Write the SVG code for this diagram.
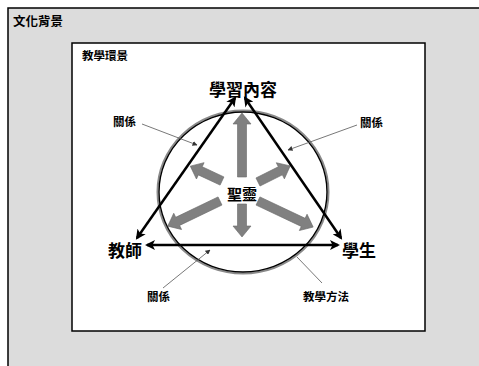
<svg xmlns="http://www.w3.org/2000/svg" width="479" height="366" viewBox="0 0 479 366">
<style>
text{font-family:"Noto Sans CJK TC","Noto Sans CJK SC",sans-serif;font-weight:bold;fill:#000}
.big{font-size:17px}
.sm{font-size:11.5px}
.thick{stroke:#000;stroke-width:2.5;fill:none;marker-start:url(#ah);marker-end:url(#ah)}
.lead{stroke:#555;stroke-width:0.8;fill:none}
.ga{fill:#808080;stroke:#6a6a6a;stroke-width:0.6}
</style>
<defs>
<marker id="ah" viewBox="0 0 10 10" refX="8" refY="5" markerWidth="11" markerHeight="10" markerUnits="userSpaceOnUse" orient="auto-start-reverse">
<path d="M0,0 L10,5 L0,10 L2.5,5 Z" fill="#000"/>
</marker>
<marker id="sa" viewBox="0 0 10 10" refX="9" refY="5" markerWidth="5" markerHeight="5" markerUnits="userSpaceOnUse" orient="auto">
<path d="M0,0 L10,5 L0,10 Z" fill="#333"/>
</marker>
</defs>
<g id="culture">
<rect x="8" y="8" width="480" height="370" fill="#dcdcdc" stroke="#000" stroke-width="1.5"/>
<text x="13" y="26" style="font-size:12.5px">文化背景</text>
</g>
<g id="environment">
<rect x="72" y="43" width="353" height="288" fill="#fff" stroke="#000" stroke-width="1.5"/>
<text x="82" y="60" class="sm">教學環景</text>
</g>
<g id="method-circle">
<ellipse cx="243" cy="192" rx="85.5" ry="81.5" fill="none" stroke="#8a8a8a" stroke-width="2"/>
<ellipse cx="243" cy="192" rx="84" ry="80" fill="none" stroke="#000" stroke-width="1.4"/>
</g>
<g id="spirit-arrows">
<path class="ga" transform="translate(242,177) rotate(-90)" d="M0,-4.5 H53 V-9 L64,0 L53,9 V4.5 H0 Z"/>
<path class="ga" transform="translate(242,204) rotate(90)" d="M0,-4.5 H22 V-9 L33,0 L22,9 V4.5 H0 Z"/>
<path class="ga" transform="translate(222,181) rotate(205.1)" d="M0,-4.5 H24 V-9 L35,0 L24,9 V4.5 H0 Z"/>
<path class="ga" transform="translate(258,182) rotate(-26.6)" d="M0,-4.5 H25 V-9 L36,0 L25,9 V4.5 H0 Z"/>
<path class="ga" transform="translate(220,201) rotate(154.3)" d="M0,-4.5 H47 V-9 L58,0 L47,9 V4.5 H0 Z"/>
<path class="ga" transform="translate(258,201) rotate(25.3)" d="M0,-4.5 H50 V-9 L61,0 L50,9 V4.5 H0 Z"/>
</g>
<g id="connectors">
<line class="thick" x1="137" y1="238" x2="235" y2="98"/>
<line class="thick" x1="245" y1="98" x2="341" y2="238"/>
<line class="thick" x1="147" y1="245" x2="338" y2="245"/>
<line class="lead" x1="142" y1="124" x2="197" y2="145" marker-end="url(#sa)"/>
<line class="lead" x1="357" y1="125" x2="288" y2="150" marker-end="url(#sa)"/>
<line class="lead" x1="163" y1="288" x2="210" y2="250" marker-end="url(#sa)"/>
<line class="lead" x1="322" y1="283" x2="297" y2="257"/>
</g>
<g id="content"><text x="243" y="96" class="big" text-anchor="middle">學習內容</text></g>
<g id="teacher"><text x="108" y="257" class="big">教師</text></g>
<g id="student"><text x="342" y="257" class="big">學生</text></g>
<g id="spirit"><text x="242" y="200" style="font-size:15px" text-anchor="middle">聖靈</text></g>
<g id="rel-left"><text x="113" y="126" class="sm">關係</text></g>
<g id="rel-right"><text x="360" y="127" class="sm">關係</text></g>
<g id="rel-bottom"><text x="147" y="301" class="sm">關係</text></g>
<g id="method-label"><text x="303" y="301" class="sm">教學方法</text></g>
</svg>
